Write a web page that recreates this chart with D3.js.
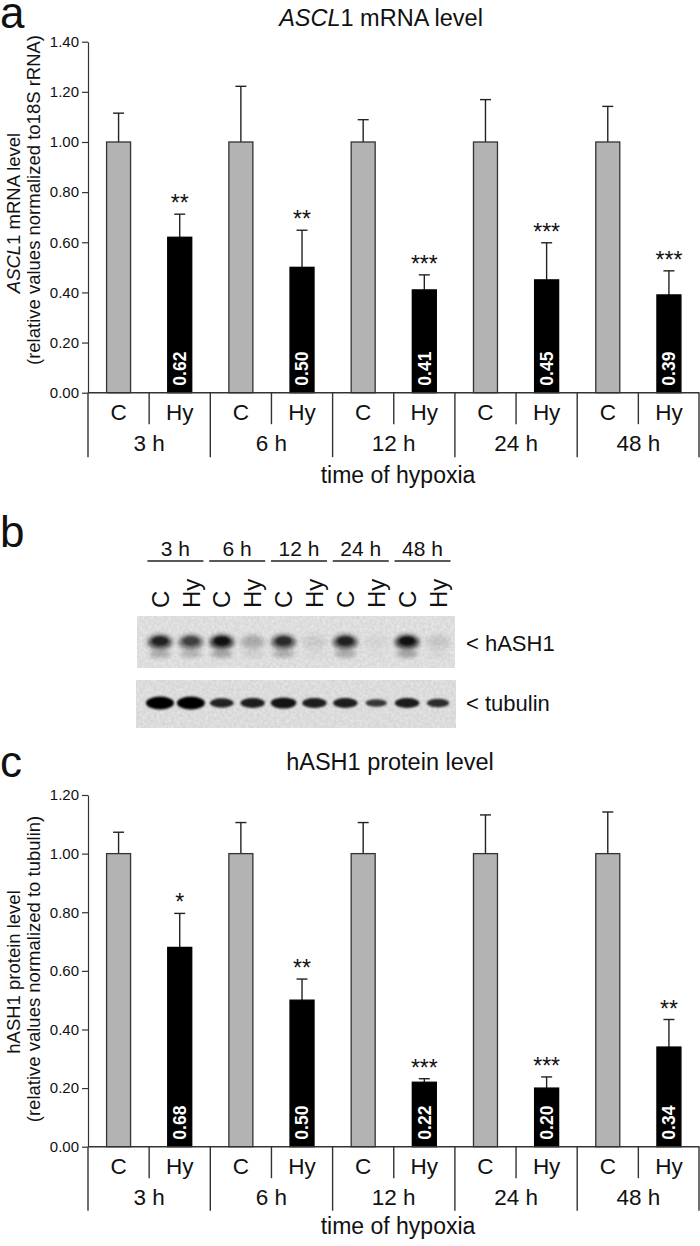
<!DOCTYPE html>
<html>
<head>
<meta charset="utf-8">
<script src="https://cdn.jsdelivr.net/npm/d3@7"></script>
<style>
  body { margin: 0; background: #fff; }
  text { font-family: "Liberation Sans", Arial, sans-serif; fill: #111; }
</style>
</head>
<body>
<script>
// groups and conditions shared by all panels
const groups = ['3 h', '6 h', '12 h', '24 h', '48 h'];
const conds = ['C', 'Hy'];

// panel a: ASCL1 mRNA
const mrnaC = [1, 1, 1, 1, 1];
const mrnaCErr = [0.115, 0.222, 0.089, 0.169, 0.142];
const mrnaHy = [0.62, 0.50, 0.41, 0.45, 0.39];
const mrnaHyErr = [0.092, 0.148, 0.060, 0.148, 0.096];
const mrnaStars = ['**', '**', '***', '***', '***'];
const mrnaTicks = [0, 0.2, 0.4, 0.6, 0.8, 1.0, 1.2, 1.4];

// panel b: western blot band intensities (0..1), lane order C,Hy per group
const hashBands = [0.85, 0.7, 0.95, 0.25, 0.8, 0.1, 0.85, 0.05, 0.95, 0.12];
const tubulinBands = [1.0, 1.0, 0.65, 0.7, 0.8, 0.7, 0.7, 0.45, 0.72, 0.55];

// panel c: hASH1 protein
const protC = [1, 1, 1, 1, 1];
const protCErr = [0.073, 0.106, 0.106, 0.132, 0.142];
const protHy = [0.68, 0.50, 0.22, 0.20, 0.34];
const protHyErr = [0.116, 0.072, 0.012, 0.038, 0.094];
const protStars = ['*', '**', '***', '***', '**'];
const protTicks = [0, 0.2, 0.4, 0.6, 0.8, 1.0, 1.2];

const W = 700, H = 1246;
const svg = d3.select('body').append('svg')
    .attr('width', W)
    .attr('height', H);

const defs = svg.append('defs');
defs.append('filter').attr('id', 'blur').attr('x', '-50%').attr('y', '-50%')
    .attr('width', '200%').attr('height', '200%')
    .append('feGaussianBlur').attr('stdDeviation', 2.2);
defs.append('filter').attr('id', 'blurS').attr('x', '-50%').attr('y', '-50%')
    .attr('width', '200%').attr('height', '200%')
    .append('feGaussianBlur').attr('stdDeviation', 1.2);
// faint grain for the blot membrane
const grain = defs.append('filter').attr('id', 'grain');
grain.append('feTurbulence').attr('type', 'fractalNoise').attr('baseFrequency', 0.35)
    .attr('numOctaves', 2).attr('seed', 3).attr('result', 'n');
grain.append('feColorMatrix').attr('in', 'n').attr('type', 'matrix')
    .attr('values', '0 0 0 0 0  0 0 0 0 0  0 0 0 0 0  0 0 0 0.12 0').attr('result', 'a');
grain.append('feComposite').attr('in', 'a').attr('in2', 'SourceGraphic').attr('operator', 'in');

const fmt = d3.format('.2f');
const barW = 24;

function barPanel(cfg) {
    const y = d3.scaleLinear().domain([0, cfg.max]).range([cfg.y0, cfg.y1]);
    const gx = d3.scaleBand().domain(groups).range([88, 699.5]);
    const sx = d3.scaleBand().domain(conds).range([0, gx.bandwidth()]);
    const cx = (g, c) => gx(g) + sx(c) + sx.bandwidth() / 2;

    const g = svg.append('g');

    // y axis
    const axis = g.append('g')
        .attr('transform', 'translate(88,0)')
        .call(d3.axisLeft(y).tickValues(cfg.ticks).tickFormat(fmt).tickSize(6).tickSizeOuter(0));
    axis.attr('font-size', 15).attr('font-family', '"Liberation Sans", Arial, sans-serif');
    axis.selectAll('path, line').attr('stroke', '#333').attr('stroke-width', 1.2);
    axis.selectAll('text').attr('font-size', 15).attr('fill', '#111');

    const rows = [];
    groups.forEach((grp, i) => {
        rows.push({ g: grp, c: 'C', v: cfg.c[i], e: cfg.cErr[i], star: '' });
        rows.push({ g: grp, c: 'Hy', v: cfg.hy[i], e: cfg.hyErr[i], star: cfg.stars[i] });
    });

    // error bars
    const eb = g.selectAll('.err').data(rows).join('g').attr('class', 'err')
        .attr('stroke', '#222').attr('stroke-width', 1.4);
    eb.append('line')
        .attr('x1', d => cx(d.g, d.c)).attr('x2', d => cx(d.g, d.c))
        .attr('y1', d => y(d.v)).attr('y2', d => y(d.v + d.e));
    eb.append('line')
        .attr('x1', d => cx(d.g, d.c) - 5.5).attr('x2', d => cx(d.g, d.c) + 5.5)
        .attr('y1', d => y(d.v + d.e)).attr('y2', d => y(d.v + d.e));

    // bars
    g.selectAll('.bar').data(rows).join('rect').attr('class', 'bar')
        .attr('x', d => cx(d.g, d.c) - barW / 2)
        .attr('width', barW)
        .attr('y', d => y(d.v))
        .attr('height', d => y(0) - y(d.v))
        .attr('fill', d => d.c === 'C' ? '#b3b3b3' : '#000')
        .attr('stroke', d => d.c === 'C' ? '#333' : '#000')
        .attr('stroke-width', 1.3);

    // value labels inside Hy bars
    g.selectAll('.val').data(rows.filter(d => d.c === 'Hy')).join('text').attr('class', 'val')
        .attr('transform', d => `translate(${cx(d.g, d.c)},${y(0) - 7}) rotate(-90)`)
        .attr('dy', '0.36em')
        .attr('font-size', 17.5).attr('font-weight', 'bold')
        .style('fill', '#fff')
        .text(d => fmt(d.v));

    // significance stars
    g.selectAll('.star').data(rows.filter(d => d.star)).join('text').attr('class', 'star')
        .attr('x', d => cx(d.g, d.c))
        .attr('y', d => y(d.v + d.e) - 3)
        .attr('text-anchor', 'middle')
        .attr('font-size', 23)
        .text(d => d.star);

    // category axis below
    const base = y(0);
    g.append('line').attr('x1', 88).attr('x2', 699.5).attr('y1', base).attr('y2', base)
        .attr('stroke', '#333').attr('stroke-width', 1.4);
    g.selectAll('.sep').data(groups.concat(['end'])).join('line').attr('class', 'sep')
        .attr('x1', d => d === 'end' ? 699 : gx(d)).attr('x2', d => d === 'end' ? 699 : gx(d))
        .attr('y1', base).attr('y2', base + cfg.longSep)
        .attr('stroke', '#333').attr('stroke-width', 1.4);
    g.selectAll('.sub').data(groups).join('line').attr('class', 'sub')
        .attr('x1', d => gx(d) + sx('Hy')).attr('x2', d => gx(d) + sx('Hy'))
        .attr('y1', base).attr('y2', base + cfg.shortSep)
        .attr('stroke', '#333').attr('stroke-width', 1.4);
    g.selectAll('.cond').data(rows).join('text').attr('class', 'cond')
        .attr('x', d => cx(d.g, d.c))
        .attr('y', base + 27)
        .attr('text-anchor', 'middle')
        .attr('font-size', 22.5)
        .text(d => d.c);
    g.selectAll('.grp').data(groups).join('text').attr('class', 'grp')
        .attr('x', d => gx(d) + gx.bandwidth() / 2)
        .attr('y', base + 58.5)
        .attr('text-anchor', 'middle')
        .attr('font-size', 22.5)
        .text(d => d);
    g.append('text')
        .attr('x', 398).attr('y', base + cfg.xTitle)
        .attr('text-anchor', 'middle')
        .attr('font-size', 23)
        .text('time of hypoxia');

    // y title lines
    const yt1 = g.append('text')
        .attr('transform', `translate(20,${cfg.yt1c}) rotate(-90)`)
        .attr('text-anchor', 'middle').attr('font-size', 18.5);
    cfg.yt1(yt1);
    g.append('text')
        .attr('transform', `translate(40,${cfg.yt2c}) rotate(-90)`)
        .attr('text-anchor', 'middle').attr('font-size', 18.5)
        .text(cfg.yt2);

    // chart title
    const t = g.append('text')
        .attr('x', cfg.titleX).attr('y', cfg.titleY)
        .attr('text-anchor', 'middle').attr('font-size', 23.5);
    cfg.title(t);
}

// panel a
barPanel({
    max: 1.4, y0: 392.7, y1: 41.7, ticks: mrnaTicks,
    c: mrnaC, cErr: mrnaCErr, hy: mrnaHy, hyErr: mrnaHyErr, stars: mrnaStars,
    shortSep: 31.5, longSep: 64.5, xTitle: 90,
    yt1c: 213, yt2c: 200,
    yt1: t => {
        t.append('tspan').attr('font-style', 'italic').text('ASCL');
        t.append('tspan').text('1 mRNA level');
    },
    yt2: '(relative values normalized to18S rRNA)',
    titleX: 381, titleY: 26,
    title: t => {
        t.append('tspan').attr('font-style', 'italic').text('ASCL');
        t.append('tspan').text('1 mRNA level');
    }
});

// panel c
barPanel({
    max: 1.2, y0: 1146.7, y1: 795, ticks: protTicks,
    c: protC, cErr: protCErr, hy: protHy, hyErr: protHyErr, stars: protStars,
    shortSep: 31.5, longSep: 64, xTitle: 87,
    yt1c: 972, yt2c: 969,
    yt1: t => t.text('hASH1 protein level'),
    yt2: '(relative values normalized to tubulin)',
    titleX: 390, titleY: 770,
    title: t => t.text('hASH1 protein level')
});

// panel b: blot
const laneNames = groups.flatMap(g => conds.map(c => g + '|' + c));
const lx = d3.scalePoint().domain(laneNames).range([160, 438]);
const blot = svg.append('g');

blot.append('rect').attr('x', 137).attr('y', 616).attr('width', 318).attr('height', 52)
    .attr('fill', '#ececec');
blot.append('rect').attr('x', 136).attr('y', 680).attr('width', 320).attr('height', 48)
    .attr('fill', '#eaeaea');
blot.append('rect').attr('x', 137).attr('y', 616).attr('width', 318).attr('height', 52)
    .attr('fill', '#000').attr('filter', 'url(#grain)');
blot.append('rect').attr('x', 136).attr('y', 680).attr('width', 320).attr('height', 48)
    .attr('fill', '#000').attr('filter', 'url(#grain)');

// hASH1 bands
blot.selectAll('.hl').data(laneNames).join('ellipse').attr('class', 'hl')
    .attr('cx', d => lx(d)).attr('cy', 654).attr('rx', 11).attr('ry', 3.5)
    .attr('fill', '#000').attr('opacity', (d, i) => hashBands[i] * 0.3)
    .attr('filter', 'url(#blur)');
blot.selectAll('.hb').data(laneNames).join('ellipse').attr('class', 'hb')
    .attr('cx', d => lx(d)).attr('cy', 642).attr('rx', 12.5).attr('ry', 7.5)
    .attr('fill', '#000').attr('opacity', (d, i) => hashBands[i] * 0.72)
    .attr('filter', 'url(#blur)');
blot.selectAll('.hc').data(laneNames).join('ellipse').attr('class', 'hc')
    .attr('cx', d => lx(d)).attr('cy', 641).attr('rx', 8).attr('ry', 4.5)
    .attr('fill', '#000').attr('opacity', (d, i) => hashBands[i] * hashBands[i] * 0.85)
    .attr('filter', 'url(#blurS)');

// tubulin bands
blot.selectAll('.tb').data(laneNames).join('ellipse').attr('class', 'tb')
    .attr('cx', d => lx(d)).attr('cy', 703)
    .attr('rx', (d, i) => 8 + 6 * tubulinBands[i])
    .attr('ry', (d, i) => 1.5 + 5 * tubulinBands[i])
    .attr('fill', '#000').attr('opacity', (d, i) => 0.55 + 0.45 * tubulinBands[i])
    .attr('filter', 'url(#blurS)');

// lane labels
blot.selectAll('.ll').data(laneNames).join('text').attr('class', 'll')
    .attr('transform', d => `translate(${lx(d)},608) rotate(-90)`)
    .attr('dy', '0.36em')
    .attr('font-size', 24)
    .text(d => d.split('|')[1]);

// time labels with underlines
const gc = g => (lx(g + '|C') + lx(g + '|Hy')) / 2;
blot.selectAll('.tl').data(groups).join('text').attr('class', 'tl')
    .attr('x', d => gc(d)).attr('y', 556)
    .attr('text-anchor', 'middle').attr('font-size', 21)
    .text(d => d);
blot.selectAll('.ul').data(groups).join('line').attr('class', 'ul')
    .attr('x1', d => gc(d) - 28).attr('x2', d => gc(d) + 28)
    .attr('y1', 561).attr('y2', 561)
    .attr('stroke', '#222').attr('stroke-width', 1.3);

blot.append('text').attr('x', 466).attr('y', 651).attr('font-size', 22).text('< hASH1');
blot.append('text').attr('x', 466).attr('y', 711).attr('font-size', 22).text('< tubulin');

// panel letters
svg.append('text').attr('x', 0).attr('y', 28).attr('font-size', 44).text('a');
svg.append('text').attr('x', 0).attr('y', 547).attr('font-size', 44).text('b');
svg.append('text').attr('x', 0).attr('y', 777).attr('font-size', 44).text('c');
</script>
</body>
</html>
